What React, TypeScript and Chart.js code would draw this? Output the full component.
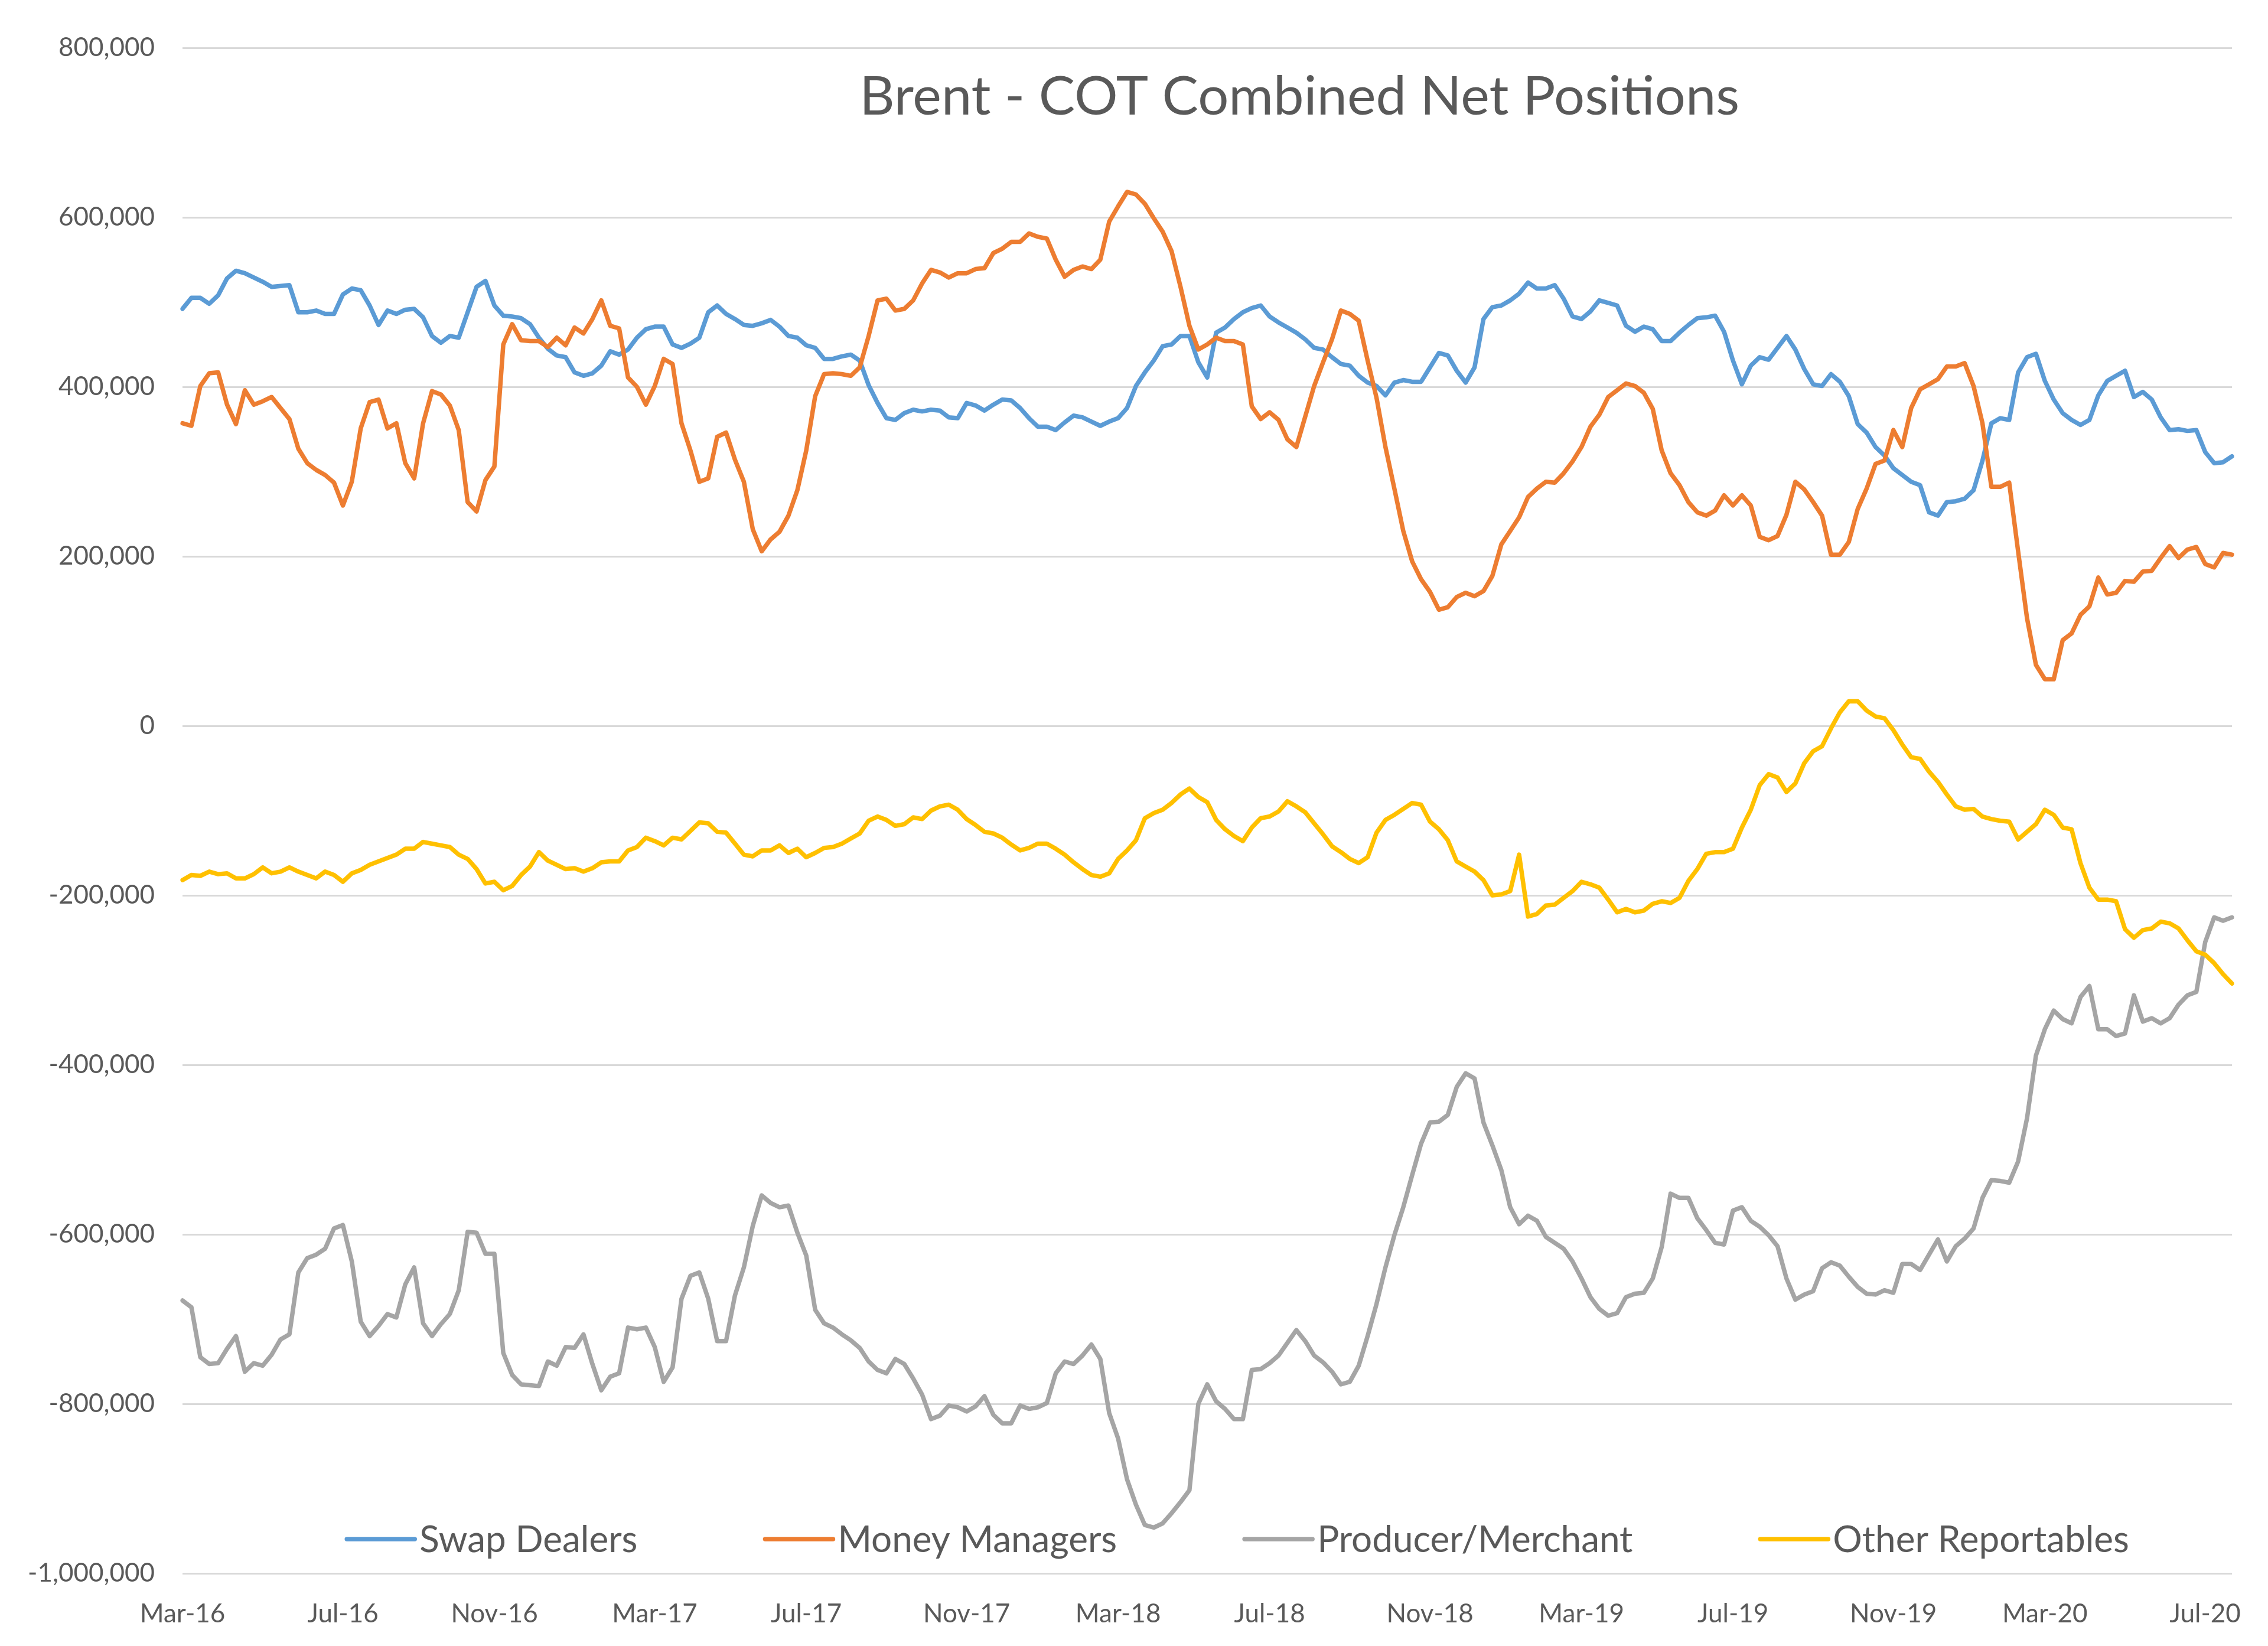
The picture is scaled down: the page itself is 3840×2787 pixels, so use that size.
import React, { useEffect, useRef } from 'react';
import { Chart, registerables } from 'chart.js';

Chart.register(...registerables);

// ---------- data (net positions, thousands of contracts) ----------
const START_DATE = Date.UTC(2016, 2, 1); // first weekly report, Tue 1 Mar 2016
const WEEK_COUNT = 231;
const WEEKS: string[] = Array.from({ length: WEEK_COUNT }, (_, i) =>
  new Date(START_DATE + i * 7 * 86400000).toISOString().slice(0, 10)
);

const TICK_MONTHS = ['2016-03', '2016-07', '2016-11', '2017-03', '2017-07', '2017-11', '2018-03', '2018-07', '2018-11', '2019-03', '2019-07', '2019-11', '2020-03', '2020-07'];
const TICK_LABELS = ['Mar-16', 'Jul-16', 'Nov-16', 'Mar-17', 'Jul-17', 'Nov-17', 'Mar-18', 'Jul-18', 'Nov-18', 'Mar-19', 'Jul-19', 'Nov-19', 'Mar-20', 'Jul-20'];

const SERIES_NAMES = ['Swap Dealers', 'Money Managers', 'Producer/Merchant', 'Other Reportables'];

const SWAP_DEALERS = [
  492, 505, 505, 498, 508, 528, 537, 534, 529, 524, 518, 519, 520, 488, 488, 490, 486, 486, 509, 516, 514, 496, 473, 490, 486, 491, 492, 482, 460, 452, 460, 458, 488, 518, 525, 496, 484, 483, 481,
  474, 458, 445, 437, 435, 417, 413, 416, 425, 442, 438, 444, 458, 468, 471, 471, 450, 446, 451, 458, 488, 496, 486, 480, 473, 472, 475, 479, 471, 460, 458, 449, 446, 433, 433, 436, 438, 431, 402,
  381, 363, 361, 369, 373, 371, 373, 372, 364, 363, 381, 378, 372, 379, 385, 384, 375, 363, 353, 353, 349, 358, 366, 364, 359, 354, 359, 363, 375, 401, 417, 431, 448, 450, 460, 460, 429, 411,
  464, 470, 480, 488, 493, 496, 483, 476, 470, 464, 456, 446, 444, 435, 427, 425, 413, 405, 401, 390, 405, 408, 406, 406, 423, 440, 437, 419, 405, 423, 480, 494, 496, 502, 510, 523, 516, 516,
  520, 504, 483, 480, 489, 502, 499, 496, 472, 465, 471, 468, 454, 454, 464, 473, 481, 482, 484, 465, 431, 403, 425, 435, 432, 446, 460, 444, 421, 403, 401, 415, 406, 389, 356, 346, 329, 319, 304,
  296, 288, 284, 252, 248, 264, 265, 268, 278, 313, 357, 363, 361, 417, 435, 439, 407, 385, 369, 361, 355, 361, 390, 407, 413, 419, 388, 394, 385, 364, 349, 350, 348, 349, 323, 310, 311, 318,
];

const MONEY_MANAGERS = [
  357, 354, 401, 416, 417, 379, 356, 396, 379, 383, 388, 375, 362, 327, 310, 302, 296, 287, 260, 288, 351, 382, 385, 351, 357, 310, 292, 357, 395, 391, 378, 349, 264, 253, 290, 306, 450, 474, 455,
  454, 454, 447, 458, 449, 470, 463, 480, 502, 472, 469, 411, 400, 379, 401, 433, 427, 357, 325, 288, 292, 341, 346, 314, 288, 232, 206, 220, 229, 248, 278, 325, 389, 415, 416, 415, 413, 423, 460,
  502, 504, 490, 492, 502, 522, 538, 535, 529, 534, 534, 539, 540, 558, 563, 571, 571, 581, 577, 575, 550, 530, 538, 542, 539, 550, 595, 613, 630, 627, 616, 599, 583, 560, 518, 472, 444, 450,
  458, 454, 454, 450, 377, 362, 370, 361, 338, 329, 365, 401, 429, 456, 490, 486, 478, 431, 387, 329, 280, 230, 194, 173, 158, 137, 140, 152, 157, 153, 159, 177, 214, 230, 246, 270, 280, 288,
  287, 298, 312, 329, 353, 367, 388, 396, 404, 401, 393, 374, 325, 298, 284, 264, 252, 248, 254, 272, 260, 272, 260, 223, 219, 224, 249, 288, 279, 264, 248, 202, 202, 217, 256, 280, 309, 313,
  349, 329, 375, 397, 403, 409, 424, 424, 428, 401, 357, 282, 282, 287, 206, 127, 72, 55, 55, 101, 109, 131, 141, 175, 155, 157, 171, 170, 182, 183, 198, 212, 198, 208, 211, 191, 187, 204, 202,
];

const PRODUCER_MERCHANT = [
  -678, -686, -745, -753, -752, -735, -720, -762, -752, -755, -742, -724, -718, -645, -628, -624, -617, -593, -589, -632, -703, -720, -708, -694, -698, -659, -639, -705, -720, -706, -694, -666, -597, -598, -623, -623, -740, -766, -777,
  -778, -779, -750, -755, -733, -734, -718, -753, -784, -768, -764, -710, -712, -710, -733, -774, -757, -676, -649, -645, -676, -726, -726, -672, -639, -590, -554, -563, -568, -566, -598, -625, -689, -705, -710, -718, -725, -734, -750,
  -760, -764, -747, -753, -770, -789, -818, -814, -802, -804, -809, -803, -791, -813, -823, -823, -802, -806, -804, -799, -764, -750, -753, -743, -730, -747, -811, -841, -889, -919, -943, -946, -941, -929, -916, -902, -800, -777,
  -797, -806, -818, -818, -760, -759, -752, -743, -728, -713, -726, -743, -751, -762, -777, -774, -755, -720, -682, -639, -601, -568, -530, -493, -468, -467, -459, -426, -410, -416, -468, -495, -524, -568, -588, -578, -584, -603,
  -610, -617, -632, -652, -674, -688, -696, -693, -674, -670, -669, -652, -615, -552, -557, -557, -581, -595, -610, -612, -572, -568, -584, -591, -601, -614, -652, -677, -671, -667, -640, -633, -637, -650, -662, -670, -671, -666, -669,
  -635, -635, -642, -624, -606, -632, -614, -605, -593, -557, -536, -537, -539, -514, -463, -389, -358, -336, -346, -351, -320, -307, -358, -358, -366, -363, -318, -349, -345, -351, -345, -329, -318, -314, -255, -226, -230, -226,
];

const OTHER_REPORTABLES = [
  -182, -176, -177, -172, -175, -174, -180, -180, -175, -167, -174, -172, -167, -172, -176, -180, -172, -176, -184, -174, -170, -164, -160, -156, -152, -145, -145, -137, -139, -141, -143, -152, -157, -169, -186, -184, -194, -189, -176,
  -166, -149, -159, -164, -169, -168, -172, -168, -161, -160, -160, -147, -143, -132, -136, -141, -132, -134, -124, -114, -115, -125, -126, -139, -152, -154, -147, -147, -141, -150, -145, -155, -150, -144, -143, -139, -133, -127, -112,
  -107, -111, -118, -116, -108, -110, -100, -95, -93, -99, -110, -117, -125, -127, -132, -140, -147, -144, -139, -139, -145, -152, -161, -169, -176, -178, -174, -157, -147, -135, -109, -103, -99, -91, -81, -74, -84, -90,
  -111, -122, -130, -136, -120, -109, -107, -101, -89, -95, -102, -115, -128, -142, -149, -157, -162, -155, -126, -111, -105, -98, -91, -93, -113, -122, -135, -160, -166, -172, -182, -200, -199, -195, -152, -225, -222, -212,
  -211, -203, -195, -184, -187, -191, -205, -220, -216, -220, -218, -210, -207, -209, -203, -183, -169, -151, -149, -149, -145, -120, -99, -70, -57, -61, -78, -68, -44, -30, -24, -3, 16, 29, 29, 18, 11, 9,
  -5, -22, -37, -39, -54, -66, -81, -95, -99, -98, -107, -110, -112, -113, -134, -125, -116, -99, -105, -120, -122, -162, -191, -205, -205, -207, -240, -250, -241, -239, -231, -233, -239, -253, -266, -270, -280, -293, -304,
];

const UNIT = 1000;
const TITLE = 'Brent - COT Combined Net Positions';

// ---------- styling ----------
const W = 3840;
const H = 2787;
const FONT = 'Lato, "Open Sans", "Liberation Sans", sans-serif';
const TEXT_COLOR = '#595959';
const COLORS = ['#5B9BD5', '#ED7D31', '#A5A5A5', '#FFC000'];
const LINE_W = 7.5;

const TICK_INDEX = TICK_MONTHS.map((m) => WEEKS.findIndex((d) => d >= m + '-01'));

const overlayPlugin = {
  id: 'overlay',
  afterDraw(chart: any) {
    const { ctx, chartArea } = chart;
    const w = chartArea.right - chartArea.left;
    ctx.save();
    // title
    ctx.font = `92px ${FONT}`;
    ctx.fillStyle = TEXT_COLOR;
    ctx.textAlign = 'center';
    ctx.textBaseline = 'middle';
    ctx.fillText(TITLE, chartArea.left + 0.545 * w, chartArea.top + 83);

    // legend inside the plot area
    const lineLen = 115;
    const gapText = 8;
    const spacing = 216;
    ctx.font = `62px ${FONT}`;
    const items = chart.data.datasets.map((ds: any) => ({
      label: ds.label as string,
      color: ds.borderColor as string,
      tw: ctx.measureText(ds.label).width,
    }));
    const total = items.reduce((s: number, it: any) => s + lineLen + gapText + it.tw, 0) + spacing * (items.length - 1);
    let x = chartArea.left + 0.515 * w - total / 2;
    const y = chartArea.bottom - 58;
    ctx.textAlign = 'left';
    items.forEach((it: any) => {
      ctx.strokeStyle = it.color;
      ctx.lineWidth = LINE_W;
      ctx.lineCap = 'round';
      ctx.beginPath();
      ctx.moveTo(x, y);
      ctx.lineTo(x + lineLen, y);
      ctx.stroke();
      ctx.fillStyle = TEXT_COLOR;
      ctx.fillText(it.label, x + lineLen + gapText, y + 2);
      x += lineLen + gapText + it.tw + spacing;
    });
    ctx.restore();
  },
};

export default function App() {
  const canvasRef = useRef<HTMLCanvasElement | null>(null);

  useEffect(() => {
    if (!canvasRef.current) return;
    const seriesValues = [SWAP_DEALERS, MONEY_MANAGERS, PRODUCER_MERCHANT, OTHER_REPORTABLES];
    const chart = new Chart(canvasRef.current, {
      type: 'line',
      data: {
        labels: WEEKS,
        datasets: seriesValues.map((vals, k) => ({
          label: SERIES_NAMES[k],
          data: vals.map((v) => v * UNIT),
          borderColor: COLORS[k],
          backgroundColor: COLORS[k],
          borderWidth: LINE_W,
          pointRadius: 0,
          tension: 0,
          fill: false,
          borderJoinStyle: 'round' as const,
          borderCapStyle: 'round' as const,
          order: 4 - k,
        })),
      },
      options: {
        animation: false,
        responsive: false,
        maintainAspectRatio: false,
        devicePixelRatio: 1,
        layout: { padding: { top: 81, right: 61, bottom: 0, left: 0 } },
        plugins: {
          legend: { display: false },
          title: { display: false },
          tooltip: { enabled: false },
        },
        scales: {
          x: {
            type: 'category',
            offset: false,
            grid: { display: false },
            border: { display: false },
            ticks: {
              autoSkip: false,
              maxRotation: 0,
              minRotation: 0,
              padding: 34,
              color: TEXT_COLOR,
              font: { family: FONT, size: 44 },
              callback: (_v: any, i: number) => TICK_LABELS[i],
            },
            afterBuildTicks: (s: any) => {
              s.ticks = TICK_INDEX.map((v) => ({ value: v }));
            },
            afterFit: (s: any) => {
              s.height = 123;
              s.paddingLeft = 0;
              s.paddingRight = 0;
            },
          },
          y: {
            min: -1000000,
            max: 800000,
            ticks: {
              stepSize: 200000,
              padding: 47,
              color: TEXT_COLOR,
              font: { family: FONT, size: 44 },
              callback: (v: any) => Number(v).toLocaleString('en-US'),
            },
            grid: { color: '#D9D9D9', lineWidth: 3, drawTicks: false },
            border: { display: false },
            afterFit: (s: any) => {
              s.width = 309;
            },
          },
        },
      },
      plugins: [overlayPlugin],
    } as any);
    return () => chart.destroy();
  }, []);

  return (
    <div style={{ position: 'fixed', left: 0, top: 0, width: W, height: H, background: '#ffffff' }}>
      <canvas ref={canvasRef} width={W} height={H} style={{ width: W, height: H, display: 'block' }} />
    </div>
  );
}
